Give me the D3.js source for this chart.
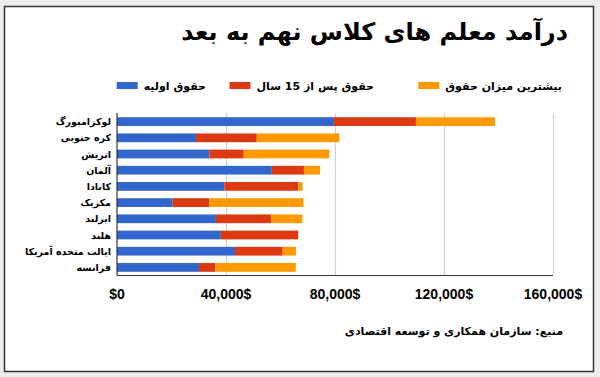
<!DOCTYPE html>
<html>
<head>
<meta charset="utf-8">
<script src="https://d3js.org/d3.v7.min.js"></script>
<style>
  body { margin: 0; background: #ececec; }
  svg { display: block; }
  .fa { font-family: "DejaVu Sans", "Liberation Sans", sans-serif; font-weight: bold; }
  .num { font-family: "Liberation Sans", Arial, sans-serif; font-weight: bold; }
</style>
</head>
<body>
<svg id="chart" width="600" height="377"></svg>
<script>
// countries, top to bottom
const countries = ["لوکزامبورگ", "کره جنوبی", "اتریش", "آلمان", "کانادا", "مکزیک", "ایرلند", "هلند", "ایالت متحده آمریکا", "فرانسه"];
// stacked segments, in thousands of dollars
const starting = [79.6, 29.0, 33.9, 56.8, 39.4, 20.4, 36.3, 38.1, 43.3, 30.1];
const after15 = [30.1, 22.3, 12.6, 11.8, 27.1, 13.5, 20.2, 28.4, 17.5, 6.0];
const topSalary = [29.0, 30.3, 31.4, 5.9, 1.6, 34.5, 11.5, 0, 4.9, 29.5];
const seriesNames = ["حقوق اولیه", "حقوق پس از 15 سال", "بیشترین میزان حقوق"];
const seriesKeys = ["starting", "after15", "top"];
const colors = ["#3366cc", "#dc3912", "#ff9900"];
const ticks = [0, 40000, 80000, 120000, 160000];
const tickLabels = ["$0", "40,000$", "80,000$", "120,000$", "160,000$"];

const svg = d3.select("#chart");

// white frame
svg.append("rect").attr("x", 4.5).attr("y", 6.5).attr("width", 589).attr("height", 365)
   .attr("fill", "#fff").attr("stroke", "#333").attr("stroke-width", 1.5);

svg.append("text").attr("class", "fa").attr("x", 568).attr("y", 40)
   .attr("text-anchor", "end").attr("font-size", 24)
   .text("درآمد معلم های کلاس نهم به بعد");

const rows = countries.map((c, i) => ({
  country: c,
  starting: starting[i] * 1000,
  after15: after15[i] * 1000,
  top: topSalary[i] * 1000
}));
const stacked = d3.stack().keys(seriesKeys)(rows);

const x = d3.scaleLinear().domain([0, 160000]).range([117, 553]);
const y = d3.scaleBand().domain(countries).range([113.5, 275.5]).paddingInner(0.46).paddingOuter(0.23);

// gridlines
svg.append("g").selectAll("line").data(ticks.slice(1)).join("line")
   .attr("x1", d => x(d) + 0.5).attr("x2", d => x(d) + 0.5)
   .attr("y1", 113).attr("y2", 275)
   .attr("stroke", "#d0d0d0").attr("stroke-width", 1.2);

// bars
svg.append("g").selectAll("g").data(stacked).join("g")
   .attr("fill", (d, i) => colors[i])
   .selectAll("rect").data(d => d).join("rect")
   .attr("x", d => x(d[0]))
   .attr("width", d => x(d[1]) - x(d[0]))
   .attr("y", d => y(d.data.country))
   .attr("height", y.bandwidth());

// axes lines
svg.append("line").attr("x1", x(0)).attr("x2", x(0)).attr("y1", 113).attr("y2", 275.5)
   .attr("stroke", "#333").attr("stroke-width", 1.2);
svg.append("line").attr("x1", x(0)).attr("x2", x(160000)).attr("y1", 275.5).attr("y2", 275.5)
   .attr("stroke", "#333").attr("stroke-width", 1.2);

// category labels
svg.append("g").selectAll("text").data(countries).join("text")
   .attr("class", "fa").attr("font-size", 9.5)
   .attr("x", 111).attr("y", d => y(d) + y.bandwidth() / 2 + 3.5)
   .attr("text-anchor", "end")
   .text(d => d);

// x tick labels
svg.append("g").selectAll("text").data(ticks).join("text")
   .attr("class", "num").attr("font-size", 14)
   .attr("x", d => x(d)).attr("y", 299)
   .attr("text-anchor", "middle")
   .text((d, i) => tickLabels[i]);

// legend, laid out right to left (right edge of each label)
const legendX = [206, 374, 562];
const legend = svg.append("g").selectAll("g").data(seriesNames).join("g")
   .attr("transform", (d, i) => `translate(${legendX[i]},0)`);
legend.append("text").attr("class", "fa").attr("font-size", 11)
   .attr("x", 0).attr("y", 90).attr("text-anchor", "end")
   .text(d => d);
legend.each(function(d, i) {
  const g = d3.select(this);
  const w = g.select("text").node().getComputedTextLength();
  g.append("rect").attr("x", -w - 27).attr("y", 82).attr("width", 21).attr("height", 7)
   .attr("fill", colors[i]);
});

// source
svg.append("text").attr("class", "fa").attr("font-size", 11)
   .attr("x", 563).attr("y", 335).attr("text-anchor", "end")
   .text("منبع: سازمان همکاری و توسعه اقتصادی");
</script>
</body>
</html>
